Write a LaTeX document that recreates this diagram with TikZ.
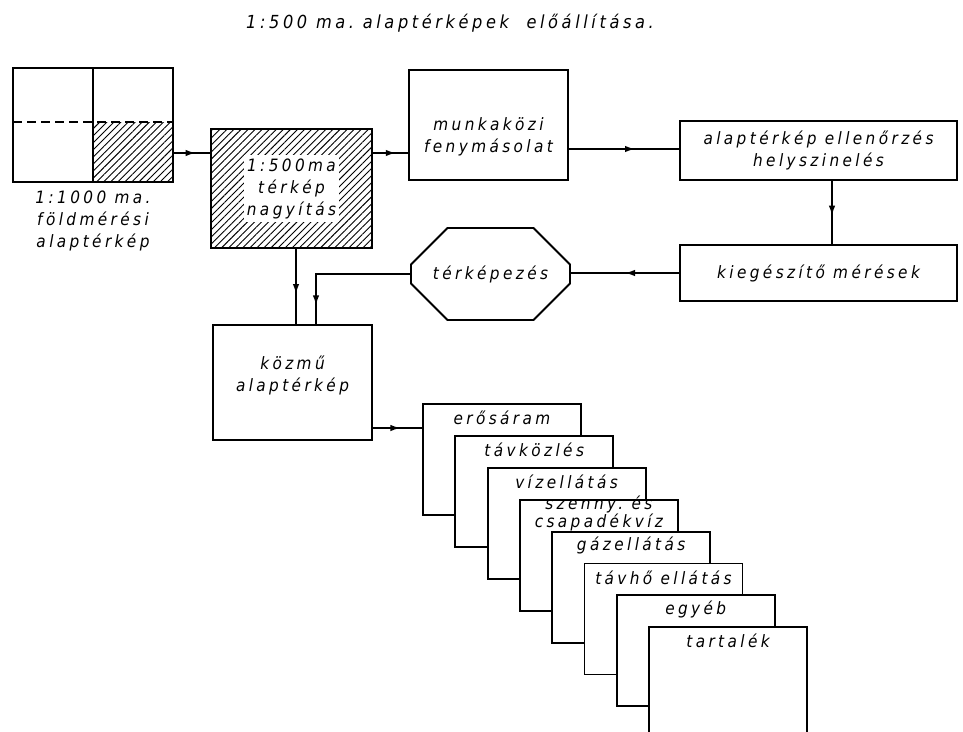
\documentclass[tikz,border=0pt]{standalone}
\usepackage{fontspec}
\setmainfont{DejaVu Sans}[LetterSpace=20,FakeStretch=0.9]
\usetikzlibrary{arrows.meta,patterns.meta,shapes.misc,decorations.markings}

\begin{document}
\begin{tikzpicture}[x=1pt,y=-1pt,
		box/.style={draw,line width=1.9pt,inner sep=0pt},
		lbl/.style={font=\fontsize{17}{22}\selectfont\itshape,align=center,inner sep=1pt},
		hatch/.style={pattern={Lines[angle=45,distance=5pt,line width=0.9pt]}},
		midarrow/.style={postaction={decorate},decoration={markings,
			mark=at position #1 with {\arrow{Latex[length=10pt,width=6.5pt]}}}},
		link/.style={line width=1.6pt}]
			\useasboundingbox (0,0) rectangle (963,731);
			\clip (0,0) rectangle (963,731);
			\node[lbl,font=\fontsize{18}{22}\selectfont\itshape] (title) at (450,23) {1:500 ma.\ alaptérképek\ \ előállítása.};
			\node[box,minimum width=160pt,minimum height=114pt,
				path picture={
					\fill[hatch] ([yshift=3pt]path picture bounding box.center) rectangle (path picture bounding box.south east);
					\draw[line width=1.8pt] (path picture bounding box.north) -- (path picture bounding box.south);
					\draw[line width=1.8pt,dash pattern=on 9pt off 5pt] ([yshift=3pt]path picture bounding box.west) -- ([yshift=3pt]path picture bounding box.east);
				}] (map) at (93,125) {};
			\node[lbl] (maptxt) at ([yshift=-38pt]map.south) {1:1000 ma.\\földmérési\\alaptérkép};
			\node[box,hatch,minimum width=161pt,minimum height=119pt] (enlarge) at (291.5,188.5) {};
			\node[lbl,fill=white,inner sep=3pt] (enlargetxt) at (enlarge) {1:500ma\\térkép\\nagyítás};
			\node[box,minimum width=159pt,minimum height=110pt] (copy) at (488.5,125) {};
			\node[lbl] (copytxt) at ([yshift=-12pt]copy.center) {munkaközi\\fenymásolat};
			\node[box,lbl,minimum width=277pt,minimum height=59pt] (check) at (818.5,150.5) {alaptérkép ellenőrzés\\helyszinelés};
			\node[box,lbl,minimum width=277pt,minimum height=56pt] (extra) at (818.5,273) {kiegészítő mérések};
			\node[box,lbl,chamfered rectangle,chamfered rectangle xsep=39pt,chamfered rectangle ysep=27pt,
				minimum width=159pt,minimum height=92pt] (mapping) at (490.5,274) {térképezés};
			\node[box,minimum width=159pt,minimum height=115pt] (kozmu) at (292.5,382.5) {};
			\node[lbl] (kozmutxt) at ([yshift=7pt]kozmu.center) {közmű\\alaptérkép};
			\foreach \name [count=\i] in {erősáram,távközlés,vízellátás,{szenny.\ és\\[-4pt]csapadékvíz},
				gázellátás,távhő ellátás,egyéb,tartalék}{
				\node[box,fill=white,minimum width=158pt,minimum height=111pt,anchor=north west]
					(card\i) at ({422+32.3*(\i-1)},{403+31.9*(\i-1)}) {};
				\node[lbl] (cardtxt\i) at ([yshift=-15pt]card\i.north) {\name};
			}
			\draw[link,midarrow=0.6] ([yshift=-28pt]map.east) -- ([yshift=-28pt]map.east -| enlarge.west);
			\draw[link,midarrow=0.65] ([yshift=35.5pt]enlarge.east) -- ([yshift=35.5pt]enlarge.east -| copy.west);
			\draw[link,midarrow=0.6] ([yshift=-24pt]copy.east) -- ([yshift=-24pt]copy.east -| check.west);
			\draw[link,midarrow=0.55] ([xshift=13.5pt]check.south) -- ([xshift=13.5pt]check.south |- extra.north);
			\draw[link,midarrow=0.5] (extra.west) -- (extra.west -| mapping.east);
			\draw[link,midarrow=0.87] (mapping.west) -| ([xshift=23.5pt]kozmu.north);
			\draw[link,midarrow=0.6] ([xshift=4.5pt]enlarge.south) -- ([xshift=4.5pt]enlarge.south |- kozmu.north);
			\draw[link,midarrow=0.56] ([yshift=-45.5pt]kozmu.east) -- ([yshift=-45.5pt]kozmu.east -| card1.west);
\end{tikzpicture}
\end{document}
